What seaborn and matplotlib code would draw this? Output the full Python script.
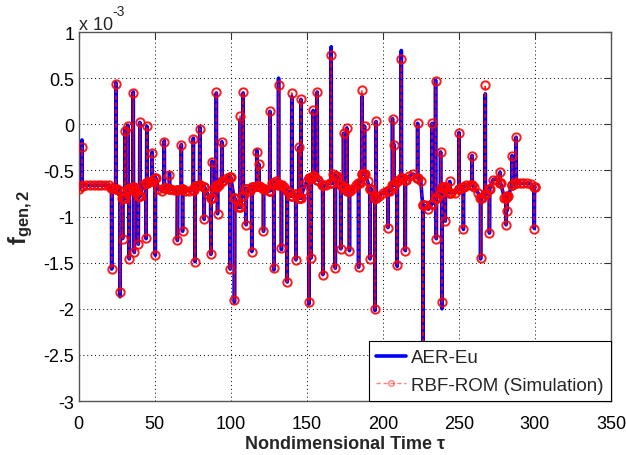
import numpy as np
import pandas as pd
import matplotlib
matplotlib.use("Agg")
import matplotlib.pyplot as plt
import seaborn as sns
from matplotlib.lines import Line2D

# ---------------- data (values in units of 1e-3) ----------------
base_step = 2.5
base_vals = [
    -0.70, -0.67, -0.66, -0.66, -0.66, -0.66, -0.66, -0.66, -0.66, -0.69,
    -0.70, -0.72, -0.80, -0.70, -0.68, -0.72, -0.78, -0.66, -0.64, -0.62,
    -0.58, -0.70, -0.72, -0.69, -0.70, -0.71, -0.71, -0.70, -0.72, -0.72,
    -0.71, -0.67, -0.66, -0.68, -0.76, -0.80, -0.68, -0.66, -0.62, -0.58,
    -0.57, -0.80, -0.90, -0.78, -0.70, -0.72, -0.68, -0.67, -0.68, -0.70,
    -0.72, -0.64, -0.62, -0.66, -0.68, -0.72, -0.78, -0.76, -0.80, -0.72,
    -0.62, -0.58, -0.56, -0.60, -0.66, -0.66, -0.64, -0.54, -0.56, -0.66,
    -0.68, -0.72, -0.70, -0.66, -0.64, -0.54, -0.62, -0.70, -0.80, -0.78,
    -0.74, -0.72, -0.72, -0.66, -0.62, -0.58, -0.60, -0.56, -0.54, -0.58,
    -0.62, -0.88, -0.92, -0.86, -0.80, -0.74, -0.68, -0.72, -0.74, -0.74,
    -0.70, -0.68, -0.66, -0.66, -0.68, -0.74, -0.80, -0.76, -0.70, -0.60,
    -0.60, -0.64, -0.80, -0.78, -0.66, -0.64, -0.64, -0.64, -0.64, -0.65,
    -0.68,
]

spike_t = [
    2.3, 21.8, 24.6, 27.3, 29.0, 30.6, 32.4, 33.4, 36.0, 36.7,
    39.3, 40.3, 44.4, 44.9, 48.4, 50.5, 56.4, 59.8, 65.0, 67.6,
    68.4, 75.5, 76.6, 79.7, 82.6, 87.0, 87.8, 90.6, 91.4, 94.2,
    99.7, 102.5, 106.2, 108.2, 110.2, 113.9, 117.2, 118.5, 121.6, 125.8,
    128.4, 131.5, 133.4, 137.2, 140.2, 142.9, 144.9, 146.2, 151.4, 152.9,
    154.3, 156.9, 160.6, 166.1, 168.8, 172.4, 174.2, 176.4, 178.1, 184.1,
    186.3, 188.0, 191.6, 194.9, 195.6, 203.4, 206.4, 207.4, 209.5, 212.2,
    214.8, 222.9, 226.4, 232.4, 234.7, 235.2, 238.0, 238.9, 241.1, 244.0,
    250.1, 253.0, 258.7, 264.3, 267.4, 270.1, 277.1, 281.0, 281.6, 285.0,
    287.6, 299.6,
]
spike_aer = [
    -0.17, -1.57, 0.45, -1.87, -1.24, -0.04, -0.01, -1.46, 0.35, -1.39,
    -1.30, 0.02, -1.24, -0.02, -0.30, -1.42, -0.18, -0.53, -1.26, -0.22,
    -1.16, -0.15, -1.49, -0.03, -1.03, -1.41, -0.40, 0.34, -0.97, -0.19,
    -1.57, -1.93, 0.05, 0.34, -1.09, -1.38, -0.28, -0.43, -1.16, 0.14,
    -1.58, 0.50, -1.36, -1.71, 0.30, -1.47, -0.25, 0.27, -1.95, -1.45,
    0.15, 0.35, -1.63, 0.84, -1.56, -1.35, -0.10, -0.04, -1.37, -1.55,
    0.30, -0.02, -1.46, -2.02, 0.03, -1.12, 0.06, -0.22, -1.54, 0.80,
    -1.37, 0.01, -2.50, 0.01, 0.48, -1.24, -0.30, -2.00, -1.05, -0.62,
    -0.09, -1.14, -0.34, -1.46, 0.33, -1.18, -0.52, -1.09, -0.94, -0.34,
    -0.14, -1.13,
]
spike_rom = [
    -0.25, -1.57, 0.44, -1.82, -1.24, -0.07, -0.02, -1.46, 0.34, -1.39,
    -1.30, 0.02, -1.23, -0.02, -0.31, -1.42, -0.19, -0.55, -1.26, -0.22,
    -1.16, -0.16, -1.49, -0.05, -1.03, -1.41, -0.41, 0.35, -0.97, -0.19,
    -1.57, -1.91, 0.09, 0.35, -1.09, -1.38, -0.30, -0.43, -1.16, 0.14,
    -1.56, 0.43, -1.34, -1.71, 0.34, -1.47, -0.25, 0.27, -1.93, -1.45,
    0.15, 0.35, -1.63, 0.75, -1.56, -1.35, -0.10, -0.04, -1.37, -1.55,
    0.37, -0.02, -1.46, -2.00, 0.03, -1.12, 0.06, -0.22, -1.53, 0.71,
    -1.37, 0.01, -2.50, 0.01, 0.47, -1.24, -0.30, -1.93, -1.05, -0.62,
    -0.09, -1.14, -0.34, -1.45, 0.43, -1.18, -0.52, -1.09, -0.94, -0.34,
    -0.14, -1.13,
]

x_ticks = [0, 50, 100, 150, 200, 250, 300, 350]
y_ticks = [-3, -2.5, -2, -1.5, -1, -0.5, 0, 0.5, 1]
y_tick_labels = ["-3", "-2.5", "-2", "-1.5", "-1", "-0.5", "0", "0.5", "1"]
series_names = ["AER-Eu", "RBF-ROM (Simulation)"]

# ---------------- assemble ----------------
base_arr = np.array(base_vals)
t_base = np.arange(len(base_vals)) * base_step
sp_t = np.array(spike_t)
# each spike is a short pulse that starts and ends on the nearest baseline sample value
foot = base_arr[np.rint(sp_t / base_step).astype(int)]
half_w = 0.18
t_all = np.concatenate([t_base, sp_t - half_w, sp_t, sp_t + half_w])
aer_all = np.concatenate([base_arr, foot, spike_aer, foot])
rom_all = np.concatenate([base_arr, foot, spike_rom, foot])
order = np.argsort(t_all, kind="stable")
df = pd.DataFrame({"t": t_all[order], "aer": aer_all[order], "rom": rom_all[order]})

# ---------------- style ----------------
sns.set_style("white")
plt.rcParams["font.family"] = ["Liberation Sans", "DejaVu Sans"]
plt.rcParams["mathtext.fontset"] = "custom"
plt.rcParams["mathtext.rm"] = "Liberation Sans"
plt.rcParams["mathtext.it"] = "Liberation Sans:italic"
plt.rcParams["mathtext.bf"] = "Liberation Sans:bold"

fig = plt.figure(figsize=(6.26, 4.56), dpi=100)
ax = fig.add_axes([0.1254, 0.1184, 0.8506, 0.8092])

sns.lineplot(data=df, x="t", y="aer", color="blue", lw=2.6, ax=ax,
             estimator=None, sort=False, legend=False, zorder=3)
sns.lineplot(data=df, x="t", y="rom", color="red", lw=1.0, ax=ax,
             estimator=None, sort=False, legend=False, linestyle=(0, (3, 2)),
             marker="o", markersize=6, markerfacecolor="none",
             markeredgecolor="red", markeredgewidth=1.4, alpha=0.9, zorder=4)

ax.set_xlim(0, 350)
ax.set_ylim(-3, 1)
ax.set_xticks(x_ticks)
ax.set_xticklabels([str(v) for v in x_ticks])
ax.set_yticks(y_ticks)
ax.set_yticklabels(y_tick_labels)
ax.tick_params(axis="both", direction="in", length=5, width=0.8,
               top=True, right=True, labelsize=13, colors="#333333",
               labelcolor="black")
ax.tick_params(axis="x", pad=10)
ax.tick_params(axis="y", pad=3)
ax.grid(True, linestyle=(0, (1, 3)), color="black", lw=0.7)
ax.set_axisbelow(True)
for s in ax.spines.values():
    s.set_color("#555555")
    s.set_linewidth(1.0)
    s.set_visible(True)

ax.set_xlabel("Nondimensional Time \u03c4", fontsize=13,
              fontweight="bold", labelpad=2)
ax.set_ylabel(r"$\mathbf{f}_{\mathbf{gen,2}}$", fontsize=17, labelpad=6)

fig.text(79 / 626, 1 - 30 / 456, "x 10", fontsize=13, va="baseline", ha="left")
fig.text(112 / 626, 1 - 16 / 456, "-3", fontsize=10, va="baseline", ha="left")

handles = [
    Line2D([], [], color="blue", lw=2.6),
    Line2D([], [], color="red", alpha=0.5, lw=1.0, linestyle=(0, (3, 2)),
           marker="o", markersize=4, markerfacecolor="none",
           markeredgecolor="red"),
]
leg = ax.legend(handles, series_names, loc="lower right", fontsize=13.5,
                frameon=True, fancybox=False, borderaxespad=0,
                handlelength=1.6, handletextpad=0.25, labelspacing=0.55,
                borderpad=0.4, numpoints=1, framealpha=1)
leg.get_frame().set_edgecolor("black")
leg.get_frame().set_linewidth(0.8)
leg.set_zorder(10)

fig.savefig("out.png", dpi=100)
